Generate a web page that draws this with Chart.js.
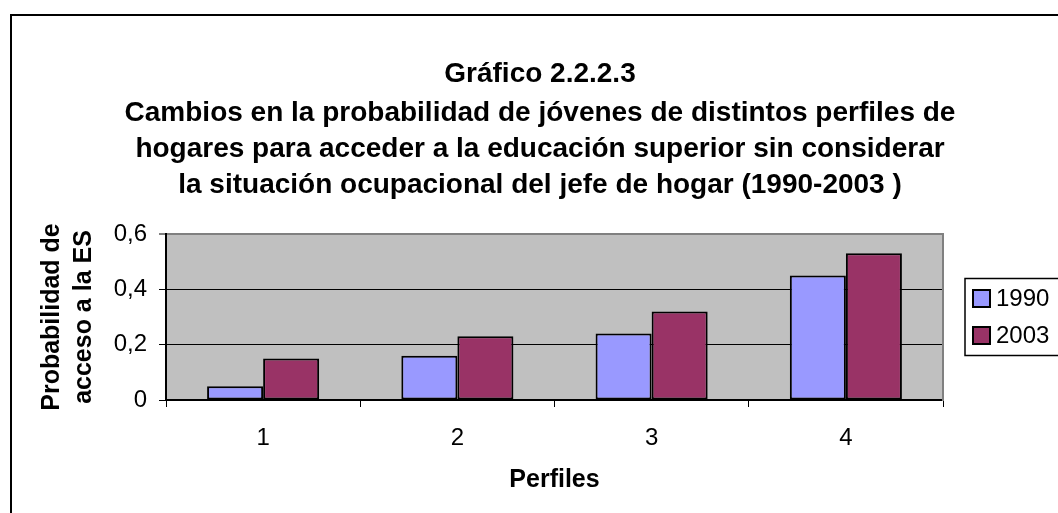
<!DOCTYPE html>
<html>
<head>
<meta charset="utf-8">
<script src="https://cdn.jsdelivr.net/npm/chart.js@4.4.1/dist/chart.umd.min.js"></script>
<style>
  html, body { margin: 0; padding: 0; background: #fff; overflow: hidden; }
  #wrap { position: relative; width: 1058px; height: 513px; }
  #frame { position: absolute; left: 10px; top: 14px; width: 1200px; height: 700px;
           border-left: 2px solid #000; border-top: 2px solid #000; box-sizing: border-box; }
  #c { position: absolute; left: 0; top: 0; }
</style>
</head>
<body>
<div id="wrap">
  <div id="frame"></div>
  <canvas id="c" width="1058" height="513"></canvas>
</div>
<script>
const titleLine = 'Gráfico 2.2.2.3';
const subtitleLines = [
  'Cambios en la probabilidad de jóvenes de distintos perfiles de',
  'hogares para acceder a la educación superior sin considerar',
  'la situación ocupacional del jefe de hogar (1990-2003 )'
];
const categories = ['1', '2', '3', '4'];
const seriesNames = ['1990', '2003'];
const values1990 = [0.05, 0.16, 0.24, 0.45];
const values2003 = [0.15, 0.23, 0.32, 0.53];
const yTickLabels = ['0', '0,2', '0,4', '0,6'];
const xAxisTitle = 'Perfiles';
const yAxisTitle = ['Probabilidad de', 'acceso a la ES'];

const FONT = "'Liberation Sans', Arial, sans-serif";

const plotBg = {
  id: 'plotBg',
  beforeDraw(chart) {
    const {ctx, chartArea: a} = chart;
    ctx.save();
    ctx.fillStyle = '#C0C0C0';
    ctx.fillRect(a.left, a.top, a.right - a.left, a.bottom - a.top);
    ctx.restore();
  }
};

const boxLegend = {
  id: 'boxLegend',
  afterDraw(chart) {
    const {ctx, chartArea: a} = chart;
    const cy = (a.top + a.bottom) / 2;
    const left = a.right + 22;
    const h = 77;
    ctx.save();
    ctx.strokeStyle = '#000';
    ctx.lineWidth = 1.5;
    ctx.strokeRect(left, cy - h / 2, 200, h);
    ctx.font = '24px ' + FONT;
    ctx.textBaseline = 'middle';
    ctx.textAlign = 'left';
    chart.data.datasets.forEach((ds, i) => {
      const y = cy + (i === 0 ? -18.5 : 18.5);
      ctx.fillStyle = ds.backgroundColor;
      ctx.fillRect(left + 8, y - 8.5, 17, 17);
      ctx.lineWidth = 2;
      ctx.strokeStyle = '#000';
      ctx.strokeRect(left + 8, y - 8.5, 17, 17);
      ctx.fillStyle = '#000';
      ctx.fillText(ds.label, left + 31, y + 1);
    });
    ctx.restore();
  }
};

new Chart(document.getElementById('c'), {
  type: 'bar',
  data: {
    labels: categories,
    datasets: [
      { label: seriesNames[0], data: values1990, backgroundColor: '#9999FF',
        borderColor: '#000', borderWidth: 2, borderSkipped: false },
      { label: seriesNames[1], data: values2003, backgroundColor: '#993366',
        borderColor: '#000', borderWidth: 2, borderSkipped: false }
    ]
  },
  options: {
    responsive: false,
    animation: false,
    devicePixelRatio: 1,
    datasets: { bar: { categoryPercentage: 0.577, barPercentage: 1 } },
    layout: { padding: { left: 22, right: 0, top: 0, bottom: 0 } },
    plugins: {
      legend: { display: false },
      tooltip: { enabled: false },
      title: {
        display: true, text: titleLine, color: '#000',
        font: { family: FONT, size: 28, weight: 'bold', lineHeight: 36 / 28 },
        padding: { top: 56, bottom: 0 }
      },
      subtitle: {
        display: true, text: subtitleLines, color: '#000',
        font: { family: FONT, size: 28, weight: 'bold', lineHeight: 36 / 28 },
        padding: { top: 3, bottom: 31 }
      }
    },
    scales: {
      x: {
        offset: true,
        grid: { display: true, offset: true, drawOnChartArea: false, drawTicks: true,
                tickLength: 7, tickColor: '#000', color: '#000' },
        border: { display: true, color: '#000', width: 2 },
        ticks: { color: '#000', padding: 16.6, font: { family: FONT, size: 24 } },
        title: { display: true, text: xAxisTitle, color: '#000',
                 font: { family: FONT, size: 25, weight: 'bold', lineHeight: 1.2 },
                 padding: { top: 0, bottom: 18 } },
        afterFit(scale) { scale.height = 113; }
      },
      y: {
        min: 0, max: 0.6,
        ticks: {
          stepSize: 0.2, color: '#000', padding: 12,
          font: { family: FONT, size: 24 },
          callback: (v, i) => yTickLabels[i]
        },
        grid: {
          color: (c) => (c.tick && Math.abs(c.tick.value - 0.6) < 1e-9) ? '#808080' : '#000',
          lineWidth: (c) => (c.tick && Math.abs(c.tick.value - 0.6) < 1e-9) ? 2 : 1,
          tickLength: 7, tickColor: '#000', tickWidth: 1
        },
        border: { display: true, color: '#000', width: 2 },
        title: { display: true, text: yAxisTitle, color: '#000',
                 font: { family: FONT, size: 25, weight: 'bold', lineHeight: 32 / 25 },
                 padding: { top: 14, bottom: 0 } },
        afterFit(scale) { scale.width = 144; }
      },
      yR: {
        position: 'right',
        display: true,
        grid: { display: false, drawTicks: false },
        ticks: { display: false },
        border: { display: true, color: '#808080', width: 2 },
        afterFit(scale) { scale.width = 115; }
      }
    }
  },
  plugins: [plotBg, boxLegend]
});
</script>
</body>
</html>
